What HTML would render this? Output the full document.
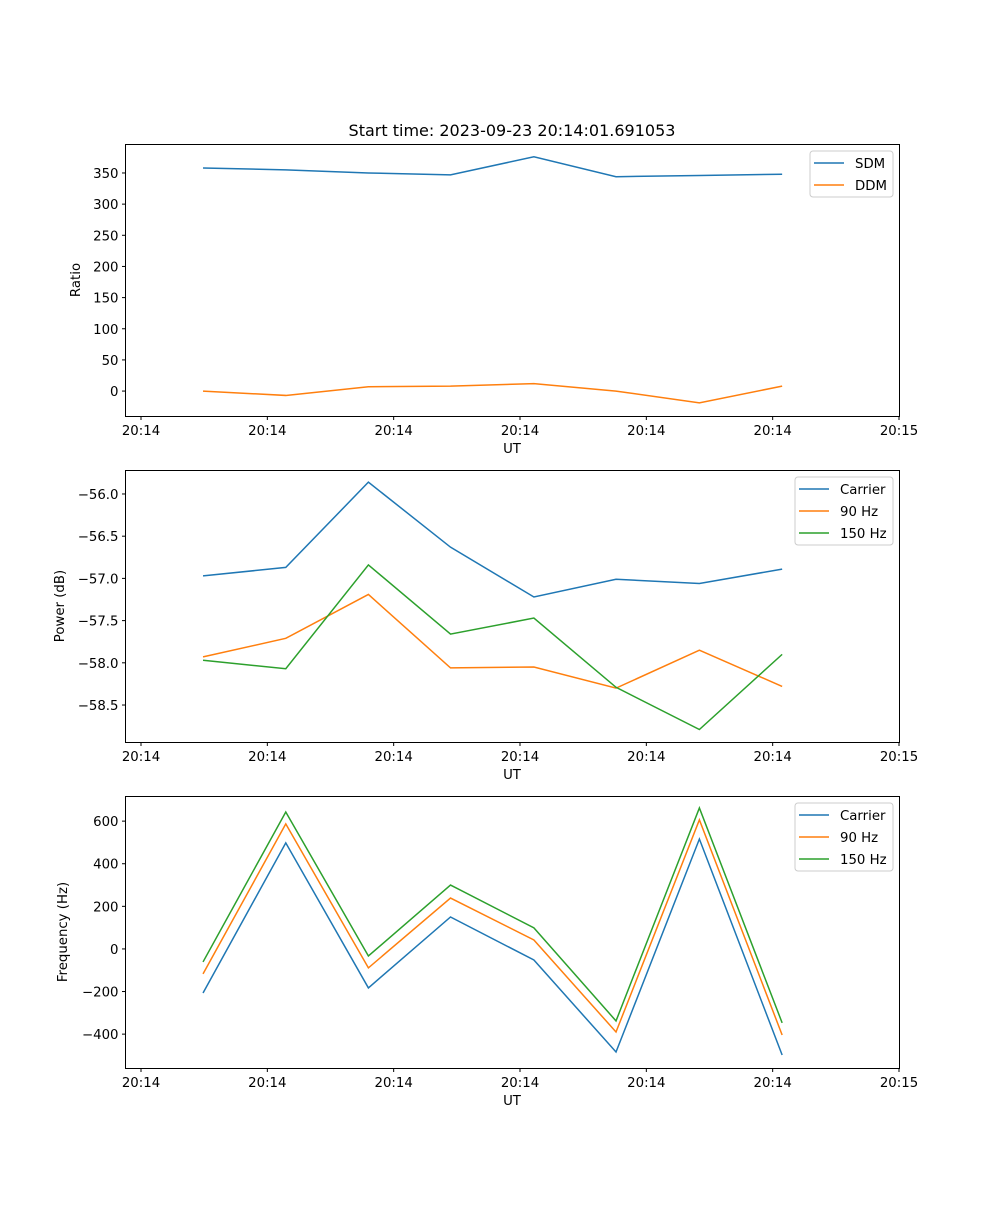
<!DOCTYPE html>
<html><head><meta charset="utf-8"><style>
body{margin:0;background:#fff}
svg text{font-family:"DejaVu Sans","Liberation Sans",sans-serif;font-size:13.3px;fill:#000}
</style></head><body>
<svg id="fig" width="1000" height="1200" xmlns="http://www.w3.org/2000/svg">
<rect width="1000" height="1200" fill="#fff"/>
<text x="512" y="136" text-anchor="middle" style="font-size:16px">Start time: 2023-09-23 20:14:01.691053</text>
</svg>
<script>
const xTickVals=[0,10,20,30,40,50,60];
const xTickLabels=["20:14","20:14","20:14","20:14","20:14","20:14","20:15"];
const times=[4.91,11.46,18.0,24.5,31.1,37.6,44.2,50.75];
const sdm=[358,355,350,347,376,344,346,348];
const ddm=[0,-7,7,8,12,0,-19,8];
const powCarrier=[-56.97,-56.87,-55.86,-56.63,-57.22,-57.01,-57.06,-56.89];
const pow90=[-57.93,-57.71,-57.19,-58.06,-58.05,-58.30,-57.85,-58.28];
const pow150=[-57.97,-58.07,-56.84,-57.66,-57.47,-58.29,-58.79,-57.90];
const freqCarrier=[-207,498,-183,150,-52,-484,516,-498];
const freq90=[-117,587,-89,239,42,-390,606,-404];
const freq150=[-61,643,-33,300,99,-338,662,-347];
const ratioTicks=[0,50,100,150,200,250,300,350];
const powTicks=[-56.0,-56.5,-57.0,-57.5,-58.0,-58.5];
const freqTicks=[-400,-200,0,200,400,600];

const NS="http://www.w3.org/2000/svg";
const svg=document.getElementById('fig');
function mk(tag,attrs,parent){const e=document.createElementNS(NS,tag);for(const k in attrs)e.setAttribute(k,attrs[k]);(parent||svg).appendChild(e);return e;}
const L=125.5,R=899.5;
function xs(t){return 141+(t-0)*(899-141)/60;}
function panel(name,top,yMin,yMax,yTicks,yFmt,ylabel,series,legend){
  const bot=top+272;
  const ys=v=>bot-(v-yMin)/(yMax-yMin)*272;
  const g=mk('g',{});
  
  
  series.forEach(s=>{
    const p=mk('polyline',{points:s.data.map((v,i)=>xs(times[i])+','+ys(v)).join(' '),fill:'none',stroke:s.color,'stroke-width':1.5},g);
    
    
  });
  const fr=mk('rect',{x:L,y:top+0.5,width:R-L,height:272,fill:'none',stroke:'#000','stroke-width':1},g);
  
  
  xTickVals.forEach((v,i)=>{
    const x=xs(v);
    mk('line',{x1:x,x2:x,y1:bot+0.5,y2:bot+4,stroke:'#000'},g);
    const t=mk('text',{x:x,y:bot+19,'text-anchor':'middle'},g);t.textContent=xTickLabels[i];
    
    
  });
  const xl=mk('text',{x:512,y:bot+37,'text-anchor':'middle'},g);xl.textContent='UT';
  
  
  yTicks.forEach(v=>{
    const y=ys(v);
    mk('line',{x1:L-3.5,x2:L,y1:y,y2:y,stroke:'#000'},g);
    const t=mk('text',{x:L-7,y:y+5,'text-anchor':'end'},g);t.textContent=yFmt(v);
    
    
  });
  const yl=mk('text',{x:0,y:0,'text-anchor':'middle',transform:`translate(${legend.ylx},${top+136}) rotate(-90)`},g);yl.textContent=ylabel;
  
  
  const lg=mk('g',{},g);
  
  
  mk('rect',{x:legend.x,y:top+7,width:893-legend.x,height:series.length*22+2,rx:3,fill:'#fff','fill-opacity':0.8,stroke:'#ccc'},lg);
  series.forEach((s,i)=>{
    const y=top+19+i*22;
    mk('line',{x1:legend.x+4,x2:legend.x+34,y1:y,y2:y,stroke:s.color,'stroke-width':1.5},lg);
    const t=mk('text',{x:legend.x+45,y:y+5},lg);t.textContent=s.label;
    
    
  });
}
const B='#1f77b4',O='#ff7f0e',G='#2ca02c';
panel('ratio-panel',144,-40,396.5,ratioTicks,v=>String(v),'Ratio',[{id:'sdm',label:'SDM',color:B,data:sdm},{id:'ddm',label:'DDM',color:O,data:ddm}],{x:810,ylx:80});
panel('power-panel',470,-58.938,-55.716,powTicks,v=>'\u2212'+Math.abs(v).toFixed(1),'Power (dB)',[{id:'carrier-power',label:'Carrier',color:B,data:powCarrier},{id:'90hz-power',label:'90 Hz',color:O,data:pow90},{id:'150hz-power',label:'150 Hz',color:G,data:pow150}],{x:795,ylx:64});
panel('frequency-panel',796,-559,718,freqTicks,v=>(v<0?'\u2212':'')+Math.abs(v),'Frequency (Hz)',[{id:'carrier-freq',label:'Carrier',color:B,data:freqCarrier},{id:'90hz-freq',label:'90 Hz',color:O,data:freq90},{id:'150hz-freq',label:'150 Hz',color:G,data:freq150}],{x:795,ylx:67});
</script>
</body></html>
